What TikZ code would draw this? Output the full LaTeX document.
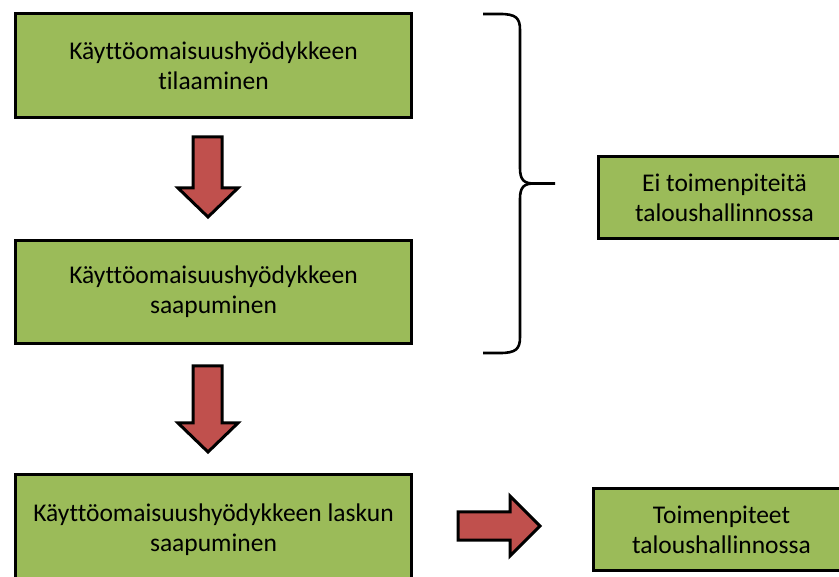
\documentclass[tikz,border=0pt]{standalone}
\usepackage{fontspec}
\setmainfont{Carlito}[Ligatures=NoCommon]
\definecolor{boxgreen}{HTML}{9BBB59}
\definecolor{arrowred}{HTML}{C0504D}
\begin{document}
\begin{tikzpicture}[x=1pt,y=-1pt,
  stepbox/.style={draw=black, line width=3pt, fill=boxgreen, anchor=north west,
    inner sep=0pt, align=center, font=\fontsize{25.5}{30}\selectfont},
  blockarrow/.style={draw=black, line width=3pt, fill=arrowred, line join=miter},
  brace/.style={draw=black, line width=2.6pt}]
\useasboundingbox (0,0) rectangle (839,577);
\clip (0,0) rectangle (839,577);

% process boxes on the left
\node[stepbox, minimum width=396pt, minimum height=104pt] (order) at (14,12)
  {Käyttöomaisuushyödykkeen\\tilaaminen};
\node[stepbox, minimum width=396pt, minimum height=103pt] (arrive) at (14,239)
  {Käyttöomaisuushyödykkeen\\saapuminen};
\node[stepbox, minimum width=396pt, minimum height=110pt] (invoice) at (14,473)
  {Käyttöomaisuushyödykkeen laskun\\saapuminen};

% boxes on the right
\node[stepbox, minimum width=252pt, minimum height=82pt] (noaction) at (597,155)
  {Ei toimenpiteitä\\taloushallinnossa};
\node[stepbox, minimum width=256pt, minimum height=82pt] (action) at (592,487)
  {Toimenpiteet\\taloushallinnossa};

% downward block arrows
\draw[blockarrow] (193,137) -- (222,137) -- (222,188) -- (238,188) -- (208,217)
  -- (178,188) -- (193,188) -- cycle;
\draw[blockarrow] (193,366) -- (222,366) -- (222,423) -- (238,423) -- (208,452)
  -- (178,423) -- (193,423) -- cycle;

% right block arrow
\draw[blockarrow] (458,512) -- (510,512) -- (510,496) -- (540,526) -- (510,556)
  -- (510,540) -- (458,540) -- cycle;

% curly brace grouping the first two steps
\coordinate (btop) at (483,14);
\coordinate (btip) at (555,183.5);
\coordinate (bbot) at (483,353);
\draw[brace] (btop) -- (500,14) .. controls (516,14) and (520,18) .. (520,30)
  -- (520,168) .. controls (520,180) and (524,183.5) .. (534,183.5) -- (btip);
\draw[brace] (534,183.5) .. controls (524,183.5) and (520,187) .. (520,199)
  -- (520,337) .. controls (520,349) and (516,353) .. (500,353) -- (bbot);
\end{tikzpicture}
\end{document}
